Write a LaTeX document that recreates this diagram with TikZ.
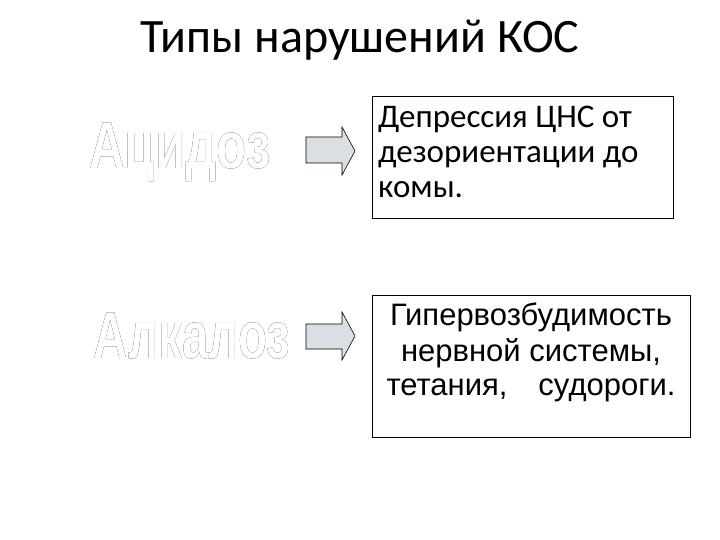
\documentclass[tikz,border=0pt]{standalone}
\usepackage{fontspec}
\setmainfont{Carlito}
\newfontfamily\arialf{Liberation Sans}
\usepackage[outline]{contour}
\contourlength{0.9pt}
\begin{document}
\begin{tikzpicture}[x=1pt,y=-1pt,
  arr/.style={draw=black,fill=cyan!15!gray!30,line width=0.6pt},
  box/.style={draw=black,line width=0.8pt},
  wart/.style={inner sep=0,font=\arialf\bfseries\fontsize{34}{34}\selectfont}]
\useasboundingbox (0,0) rectangle (720,540);
\node (title) at (360,40) {\fontsize{48}{52}\selectfont Типы нарушений КОС};
\node[wart] (ac) at (180,152) {\scalebox{1.45}[1.95]{\contour{black}{\color{white}Ацидоз}}};
\node[wart] (al) at (192,336) {\scalebox{1.4}[1.95]{\contour{black}{\color{white}Алкалоз}}};
\draw[arr] (306,137) -- (342,137) -- (342,127) -- (355,151) -- (342,175) -- (342,163) -- (306,163) -- cycle;
\draw[arr] (306,324) -- (342,324) -- (342,312) -- (355,336) -- (342,360) -- (342,349) -- (306,349) -- cycle;
\draw[box] (372,96) rectangle (673,218);
\node[anchor=north west,align=left,inner sep=0,font=\fontsize{33}{35}\selectfont] (t1) at (378,106) {Депрессия ЦНС от\\дезориентации до\\комы.};
\draw[box] (372,295) rectangle (690,437);
\node[anchor=north,align=center,inner sep=0,font=\arialf\fontsize{31}{32}\selectfont] (t2) at (531,303) {Гипервозбудимость\\[4pt]нервной системы,\\[2pt]тетания,\quad судороги.};
\end{tikzpicture}
\end{document}
